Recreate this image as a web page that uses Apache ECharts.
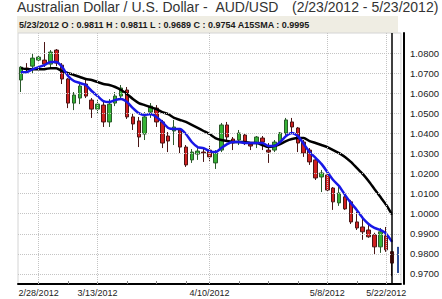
<!DOCTYPE html>
<html><head><meta charset="utf-8">
<script src="https://cdn.jsdelivr.net/npm/echarts/dist/echarts.min.js"></script>
<style>html,body{margin:0;padding:0;background:#fff}#c{width:442px;height:299px}</style>
</head><body><div id="c"></div>
<script>
const dates = ['2/23/2012','2/24/2012','2/27/2012','2/28/2012','2/29/2012',
'3/1/2012','3/2/2012','3/5/2012','3/6/2012','3/7/2012','3/8/2012','3/9/2012','3/12/2012','3/13/2012','3/14/2012','3/15/2012','3/16/2012','3/19/2012','3/20/2012','3/21/2012','3/22/2012','3/23/2012','3/26/2012','3/27/2012','3/28/2012','3/29/2012','3/30/2012',
'4/2/2012','4/3/2012','4/4/2012','4/5/2012','4/9/2012','4/10/2012','4/11/2012','4/12/2012','4/13/2012','4/16/2012','4/17/2012','4/18/2012','4/19/2012','4/20/2012','4/23/2012','4/24/2012','4/25/2012','4/26/2012','4/27/2012','4/30/2012',
'5/1/2012','5/2/2012','5/3/2012','5/4/2012','5/7/2012','5/8/2012','5/9/2012','5/10/2012','5/11/2012','5/14/2012','5/15/2012','5/16/2012','5/17/2012','5/18/2012','5/21/2012','5/22/2012','5/23/2012',''];

const opens = [1.0666,1.0726,1.0735,1.0765,1.0765,1.0745,1.0815,1.0740,1.0671,1.0551,1.0576,1.0646,1.0566,1.0521,1.0541,1.0457,1.0551,1.0586,1.0616,1.0482,1.0462,1.0397,1.0506,1.0526,1.0457,1.0387,1.0412,1.0417,1.0332,1.0268,1.0297,1.0307,1.0317,1.0253,1.0317,1.0442,1.0372,1.0367,1.0392,1.0347,1.0352,1.0377,1.0317,1.0317,1.0357,1.0402,1.0457,1.0427,1.0357,1.0317,1.0268,1.0183,1.0193,1.0128,1.0054,1.0084,1.0059,0.9959,0.9934,0.9919,0.9895,0.9835,0.9890,0.9811];
const closes = [1.0730,1.0722,1.0775,1.0780,1.0745,1.0805,1.0750,1.0671,1.0551,1.0591,1.0636,1.0586,1.0521,1.0546,1.0457,1.0546,1.0586,1.0626,1.0482,1.0447,1.0382,1.0482,1.0536,1.0457,1.0352,1.0362,1.0432,1.0332,1.0243,1.0307,1.0312,1.0302,1.0283,1.0302,1.0442,1.0382,1.0352,1.0402,1.0357,1.0337,1.0382,1.0357,1.0307,1.0357,1.0402,1.0467,1.0432,1.0352,1.0302,1.0258,1.0178,1.0203,1.0118,1.0059,1.0103,1.0024,0.9959,0.9929,0.9910,0.9885,0.9835,0.9910,0.9820,0.9754];
const lows = [1.0606,1.0705,1.0700,1.0755,1.0730,1.0730,1.0735,1.0646,1.0526,1.0516,1.0546,1.0576,1.0477,1.0501,1.0432,1.0432,1.0536,1.0576,1.0472,1.0417,1.0332,1.0367,1.0477,1.0432,1.0327,1.0307,1.0342,1.0302,1.0233,1.0253,1.0268,1.0258,1.0263,1.0223,1.0307,1.0357,1.0317,1.0342,1.0342,1.0317,1.0327,1.0317,1.0253,1.0307,1.0352,1.0392,1.0407,1.0307,1.0283,1.0243,1.0168,1.0108,1.0108,1.0019,1.0039,1.0019,0.9949,0.9919,0.9870,0.9880,0.9795,0.9805,0.9810,0.9689];
const highs = [1.0735,1.0750,1.0800,1.0790,1.0855,1.0815,1.0820,1.0750,1.0676,1.0606,1.0656,1.0666,1.0576,1.0566,1.0561,1.0571,1.0606,1.0641,1.0631,1.0501,1.0482,1.0506,1.0551,1.0541,1.0467,1.0407,1.0467,1.0427,1.0342,1.0322,1.0327,1.0327,1.0337,1.0317,1.0452,1.0457,1.0382,1.0417,1.0402,1.0357,1.0387,1.0387,1.0352,1.0367,1.0407,1.0477,1.0477,1.0432,1.0367,1.0327,1.0278,1.0218,1.0208,1.0133,1.0138,1.0094,1.0069,1.0009,0.9979,0.9944,0.9905,0.9929,0.9934,0.9811];

// 15-day simple moving average (black)
const sma15 = [1.0725,1.0720,1.0720,1.0720,1.0720,1.0725,1.0725,1.0710,1.0700,1.0691,1.0681,1.0671,1.0666,1.0656,1.0646,1.0641,1.0631,1.0616,1.0596,1.0571,1.0551,1.0541,1.0531,1.0521,1.0506,1.0496,1.0477,1.0467,1.0457,1.0442,1.0427,1.0412,1.0397,1.0377,1.0367,1.0362,1.0357,1.0357,1.0357,1.0352,1.0352,1.0342,1.0332,1.0337,1.0347,1.0362,1.0372,1.0377,1.0377,1.0362,1.0352,1.0342,1.0332,1.0317,1.0302,1.0283,1.0258,1.0228,1.0198,1.0163,1.0123,1.0084,1.0044,0.9995];
// short moving average (blue)
const fastMA = [1.0705,1.0705,1.0720,1.0730,1.0740,1.0755,1.0755,1.0730,1.0686,1.0661,1.0651,1.0641,1.0611,1.0586,1.0561,1.0556,1.0566,1.0571,1.0556,1.0526,1.0501,1.0492,1.0496,1.0482,1.0457,1.0427,1.0422,1.0422,1.0397,1.0357,1.0332,1.0327,1.0312,1.0307,1.0327,1.0347,1.0357,1.0357,1.0352,1.0352,1.0352,1.0352,1.0337,1.0337,1.0357,1.0387,1.0402,1.0387,1.0347,1.0307,1.0278,1.0248,1.0208,1.0168,1.0138,1.0094,1.0054,1.0019,0.9979,0.9949,0.9929,0.9919,0.9900,0.9860];

const lastBar = [0.9705, 0.9835];
const gridLevels = [0.97,0.98,0.99,1.00,1.01,1.02,1.03,1.04,1.05,1.06,1.07,1.08];
const labelDates = ['2/28/2012','3/13/2012','4/10/2012','5/8/2012','5/22/2012'];
const tickDates = ['2/28/2012','3/6/2012','3/13/2012','3/20/2012','3/27/2012','4/3/2012','4/10/2012','4/17/2012','4/24/2012','5/1/2012','5/8/2012','5/15/2012','5/22/2012'];

const FONT = '"Liberation Sans", Arial, sans-serif';
const candles = opens.map((o,i)=>[o, closes[i], lows[i], highs[i]]);
const n = opens.length - 1;
const headerText = dates[n] + ' O : ' + opens[n].toFixed(4) + ' H : ' + highs[n].toFixed(4) +
  ' L : ' + lows[n].toFixed(4) + ' C : ' + closes[n].toFixed(4) + ' A15SMA : ' + sma15[n].toFixed(4);

const chart = echarts.init(document.getElementById('c'), null, {renderer:'svg'});
chart.setOption({
  animation:false,
  backgroundColor:'#fff',
  grid:{left:18,right:36,top:33,bottom:15,show:true,borderColor:'#d4d4d4',borderWidth:1,backgroundColor:'#fff'},
  xAxis:{type:'category',data:dates,boundaryGap:true,
    axisLine:{lineStyle:{color:'#000',width:2}},
    axisTick:{show:true,inside:true,length:3,alignWithLabel:true,
      interval:(i,v)=>tickDates.includes(v),lineStyle:{color:'#888'}},
    axisLabel:{interval:(i,v)=>labelDates.includes(v),fontSize:9,color:'#222',margin:4,fontFamily:FONT},
    splitLine:{show:false}},
  yAxis:{type:'value',position:'right',min:0.965,max:1.09,interval:0.005,offset:3,scale:true,
    axisLine:{show:true,lineStyle:{color:'#000',width:2}},
    axisTick:{show:false},
    axisLabel:{margin:6,fontSize:9.5,color:'#222',fontFamily:FONT,
      formatter:v=>{const k=Math.round(v*1000);return (k%10===0&&k>=970&&k<=1080)?(k/1000).toFixed(4):'';}},
    splitLine:{show:false}},
  graphic:[
    {type:'text',left:17,top:0,style:{text:'Australian Dollar / U.S. Dollar -\u00a0\u00a0AUD/USD',font:'14px '+FONT,fill:'#333'}},
    {type:'text',left:292,top:0,style:{text:'(' + dates[0] + ' - ' + dates[n] + ')',font:'14px '+FONT,fill:'#333'}},
    {type:'rect',left:17,top:16,shape:{width:381,height:17},style:{fill:'#efede3'},z:-1},
    {type:'text',left:19,top:20,style:{text:headerText,font:'bold 9px '+FONT,fill:'#1a1a1a'}}
  ],
  series:[
    {type:'custom',z:1,silent:true,
      renderItem:(params,api)=>{
        const a=api.coord([api.value(0),api.value(1)]);const b=api.coord([api.value(0),api.value(2)]);
        return {type:'rect',shape:{x:a[0]-1,y:b[1],width:2,height:a[1]-b[1]},style:{fill:'#2b4a95'}};
      },
      encode:{x:0,y:[1,2]},
      data:[[dates.length-1,lastBar[0],lastBar[1]]],
      markLine:{silent:true,symbol:['none','none'],label:{show:false},
        lineStyle:{color:'#c4c4c4',type:[1,1],width:1},
        data:gridLevels.map(v=>({yAxis:v})).concat(labelDates.map(d=>({xAxis:d})))}
    },
    {type:'candlestick',z:2,data:candles,barWidth:4,
      itemStyle:{color:'#35b335',color0:'#d01f1f',borderColor:'#2a5a2a',borderColor0:'#4a1515',borderWidth:1}},
    {type:'line',z:3,data:sma15,symbol:'none',smooth:0.2,lineStyle:{color:'#000',width:2.5}},
    {type:'line',z:4,data:fastMA,symbol:'none',smooth:0.2,lineStyle:{color:'#1818e6',width:2.5},
      markLine:{silent:true,symbol:['none','none'],label:{show:false},
        lineStyle:{color:'#000',width:1.5,type:'solid'},data:[{xAxis:dates[n]}]}}
  ]
});
</script></body></html>
